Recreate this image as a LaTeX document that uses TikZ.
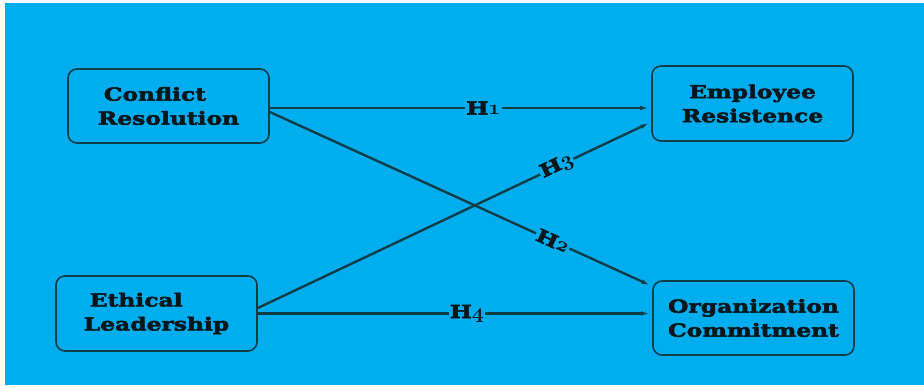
\documentclass[tikz,border=0pt]{standalone}
\usepackage{fontspec}
\usepackage{graphicx}
\setmainfont{DejaVu Serif}[FakeStretch=1.3, BoldFeatures={FakeBold=3}]
\usetikzlibrary{arrows.meta,calc}

\definecolor{bgblue}{RGB}{0,174,239}
\definecolor{linedark}{RGB}{16,62,72}
\definecolor{inkdark}{RGB}{6,22,26}

% old-style digit taken from the bold math italic font
\newcommand{\osdigit}[1]{{\usefont{OML}{cmm}{b}{it}\fontsize{22}{22}\selectfont#1}}

\begin{document}
\begin{tikzpicture}[x=1pt,y=-1pt,
  box/.style={draw=linedark, line width=1.6pt, rounded corners=9pt,
    fill=bgblue, minimum width=201pt, text=inkdark,
    font=\bfseries\fontsize{18}{24}\selectfont},
  link/.style={draw=linedark, line width=2.4pt,
    -{Latex[open, length=9pt, width=4.5pt]}, shorten >=2pt},
  hlabel/.style={fill=bgblue, inner sep=1.2pt, sloped, text=inkdark,
    font=\bfseries\fontsize{18}{20}\selectfont}]

% canvas
\useasboundingbox (0,0) rectangle (924,387);
\fill[white] (0,0) rectangle (924,387);
\fill[bgblue] (5,3) rectangle (924,385);

% constructs
\node[box, minimum height=74pt, align=left] (cr) at (168.5,106)
  {\hspace*{6pt}Conflict\\Resolution};
\node[box, minimum height=75pt, align=center] (er) at (752.5,103.5)
  {Employee\\Resistence};
\node[box, minimum height=75pt, align=left] (el) at (156.5,313.5)
  {\hspace*{6pt}Ethical\\Leadership};
\node[box, minimum height=74pt, align=center] (oc) at (753.5,318)
  {Organization\\Commitment};

% hypotheses
\draw[link] ($(cr.east)+(0,2)$) -- ($(cr.east -| er.west)+(0,2)$)
  node[hlabel, pos=0.56] {H\osdigit{1}};
\draw[link] ($(cr.east)+(0,6)$) -- ($(oc.north west)+(0,6)$)
  node[hlabel, pos=0.74] {H\osdigit{2}};
\draw[link] ($(el.east)+(0,-5.5)$) -- ($(er.west)+(0,18.5)$)
  node[hlabel, pos=0.76] {H\osdigit{3}};
\draw[link] (el.east) -- (el.east -| oc.west)
  node[hlabel, pos=0.53] {H\osdigit{4}};
\end{tikzpicture}
\end{document}
